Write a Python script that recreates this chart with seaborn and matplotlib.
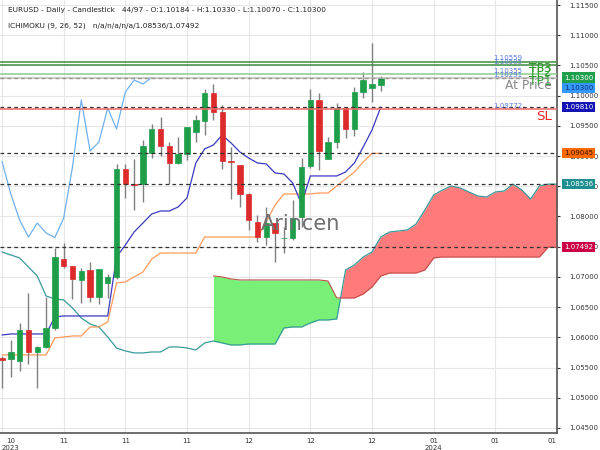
import numpy as np
import pandas as pd
import matplotlib
matplotlib.use("Agg")
import matplotlib.pyplot as plt
import matplotlib.transforms as mtransforms
import seaborn as sns

sns.set_style("whitegrid")
plt.rcParams['font.family'] = ['DejaVu Sans']

# ---------------- data ----------------
opens = [1.05658, 1.05642, 1.05609, 1.06122, 1.05758, 1.05840, 1.06155, 1.07297, 1.07181, 1.06949,
         1.07115, 1.06668, 1.06900, 1.06999, 1.08786, 1.08546, 1.08538, 1.09051, 1.09448, 1.09167,
         1.08885, 1.09034, 1.09398, 1.09580, 1.10044, 1.09729, 1.08926, 1.08852, 1.08372, 1.07909,
         1.07661, 1.07892, 1.07636, 1.07644, 1.07992, 1.08836, 1.09928, 1.08951, 1.09233, 1.09795,
         1.09448, 1.10060, 1.10126, 1.10184]
highs = [1.05692, 1.05956, 1.06238, 1.06734, 1.05857, 1.06668, 1.07479, 1.07561, 1.07181, 1.07148,
         1.07247, 1.07131, 1.07048, 1.08869, 1.08869, 1.08951, 1.09266, 1.09531, 1.09646, 1.09233,
         1.09316, 1.09481, 1.09680, 1.10110, 1.10193, 1.09845, 1.09150, 1.08852, 1.08389, 1.08025,
         1.08157, 1.07892, 1.07826, 1.08273, 1.08968, 1.10110, 1.10044, 1.09316, 1.09878, 1.09795,
         1.10143, 1.10391, 1.10871, 1.10330]
lows = [1.05162, 1.05344, 1.05443, 1.05559, 1.05162, 1.05824, 1.06122, 1.07148, 1.06635, 1.06569,
        1.06585, 1.06552, 1.06651, 1.06966, 1.08306, 1.08108, 1.08240, 1.08968, 1.09001, 1.08538,
        1.08869, 1.08935, 1.09233, 1.09349, 1.09597, 1.08786, 1.08290, 1.08157, 1.07777, 1.07578,
        1.07528, 1.07247, 1.07396, 1.07611, 1.07826, 1.08802, 1.08769, 1.08951, 1.09133, 1.09299,
        1.09332, 1.09961, 1.09895, 1.10070]
closes = [1.05625, 1.05758, 1.06122, 1.05758, 1.05840, 1.06155, 1.07330, 1.07181, 1.06966, 1.07098,
          1.06668, 1.07131, 1.06999, 1.08786, 1.08538, 1.08529, 1.09167, 1.09448, 1.09167, 1.08885,
          1.09034, 1.09481, 1.09597, 1.10044, 1.09729, 1.08918, 1.08910, 1.08372, 1.07942, 1.07661,
          1.07892, 1.07727, 1.07652, 1.07975, 1.08819, 1.09928, 1.09084, 1.09233, 1.09795, 1.09448,
          1.10060, 1.10259, 1.10193, 1.10300]

tenkan = [1.06039, 1.06056, 1.06056, 1.06056, 1.06056, 1.06056, 1.06337, 1.06354, 1.06354, 1.06354,
          1.06354, 1.06354, 1.06354, 1.07330, 1.07529, 1.07744, 1.07893, 1.08042, 1.08091, 1.08091,
          1.08158, 1.08307, 1.08886, 1.09118, 1.09184, 1.09349, 1.09217, 1.09068, 1.08968, 1.08886,
          1.08869, 1.08720, 1.08704, 1.08555, 1.08207, 1.08671, 1.08671, 1.08671, 1.08671, 1.08737,
          1.08886, 1.09150, 1.09432, 1.09810]
kijun = [1.05709, 1.05709, 1.05709, 1.05709, 1.05709, 1.05709, 1.05990, 1.06006, 1.06023, 1.06023,
         1.06172, 1.06172, 1.06255, 1.06900, 1.06917, 1.07000, 1.07082, 1.07297, 1.07396, 1.07396,
         1.07396, 1.07396, 1.07396, 1.07661, 1.07661, 1.07661, 1.07661, 1.07661, 1.07661, 1.07661,
         1.07909, 1.08191, 1.08373, 1.08373, 1.08373, 1.08373, 1.08389, 1.08389, 1.08505, 1.08621,
         1.08737, 1.08902, 1.09045, 1.09045]
span_a = [1.07413, 1.07363, 1.07314, 1.07165, 1.07016, 1.06685, 1.06635, 1.06619, 1.06486, 1.06321,
          1.06221, 1.06172, 1.06006, 1.05824, 1.05775, 1.05742, 1.05742, 1.05758, 1.05758, 1.05841,
          1.05841, 1.05824, 1.05791, 1.05907, 1.05940, 1.05907, 1.05874, 1.05874, 1.05890, 1.05890,
          1.05890, 1.05890, 1.06155, 1.06172, 1.06172, 1.06238, 1.06288, 1.06288, 1.06304, 1.07115,
          1.07198, 1.07330, 1.07413, 1.07661, 1.07744, 1.07760, 1.07777, 1.07876, 1.08108, 1.08356,
          1.08439, 1.08505, 1.08472, 1.08406, 1.08340, 1.08323, 1.08406, 1.08422, 1.08536, 1.08439,
          1.08290, 1.08505, 1.08536, 1.08536]
span_b = [np.nan] * 24 + [
          1.07016, 1.06999, 1.06966, 1.06950, 1.06950, 1.06950, 1.06950, 1.06950, 1.06950, 1.06950,
          1.06950, 1.06950, 1.06950, 1.06933, 1.06652, 1.06652, 1.06652, 1.06718, 1.06834, 1.07016,
          1.07065, 1.07065, 1.07065, 1.07065, 1.07115, 1.07314, 1.07330, 1.07330, 1.07330, 1.07330,
          1.07330, 1.07330, 1.07330, 1.07330, 1.07330, 1.07330, 1.07330, 1.07330, 1.07492, 1.07492]

x_tick_pos = [0, 7, 14, 21, 28, 35, 42, 49, 56, 63]
x_tick_labels = ["10\n2023", "11", "11", "11", "12", "12", "12", "01\n2024", "01", "01"]

level_values = [1.10559, 1.10505, 1.10355, 1.10291, 1.09772]
level_names = ["TP3", "TP2", "TP1", "At Price", "SL"]
level_colors = ["#3f8f3f", "#3f8f3f", "#8ccc8c", "#bbbbbb", "#ee6666"]
level_text_colors = ["#2a9a2a", "#2a9a2a", "#2a9a2a", "#888888", "#ee2222"]

last_values = [1.10300, 1.09810, 1.09045, 1.08536, 1.07492]
box_values = [1.10300, 1.10300, 1.09810, 1.09045, 1.08536, 1.07492]
box_positions = [1.10300, 1.10126, 1.09810, 1.09045, 1.08536, 1.07492]
box_colors = ["#20a04c", "#3399ff", "#1414b4", "#ff6a00", "#1f8f8f", "#cc0044"]
box_text_colors = ["white", "#10306a", "white", "#331100", "white", "white"]

title_1 = "EURUSD - Daily - Candlestick   44/97 - O:1.10184 - H:1.10330 - L:1.10070 - C:1.10300"
title_2 = "ICHIMOKU (9, 26, 52)   n/a/n/a/n/a/1.08536/1.07492"

# ---------------- frames ----------------
n = len(closes)
candles = pd.DataFrame({"i": np.arange(n), "o": opens, "h": highs, "l": lows, "c": closes})
ichi = pd.DataFrame({"i": np.arange(len(span_a)), "a": span_a, "b": span_b})
tk = pd.DataFrame({"i": np.arange(n), "tenkan": tenkan, "kijun": kijun})
chikou = pd.DataFrame({"i": np.arange(n - 26), "v": closes[26:]})

# ---------------- figure ----------------
fig = plt.figure(figsize=(6, 4.5), dpi=100)
ax = fig.add_axes([0, 1 - 433 / 450, 557 / 600, 433 / 450])
ax.set_facecolor("white")

# cloud
a = ichi["a"].to_numpy()
b = ichi["b"].to_numpy()
valid = ~np.isnan(b)
xi = ichi["i"].to_numpy()
ax.fill_between(xi[valid], a[valid], b[valid], where=(b[valid] >= a[valid]), interpolate=True,
                color="#78f078", lw=0, zorder=1)
ax.fill_between(xi[valid], a[valid], b[valid], where=(a[valid] > b[valid]), interpolate=True,
                color="#ff7b7b", lw=0, zorder=1)
sns.lineplot(data=ichi, x="i", y="a", ax=ax, color="#3a9a9a", linewidth=0.9, estimator=None, sort=False, zorder=2)
sns.lineplot(data=ichi[valid], x="i", y="b", ax=ax, color="#c0504d", linewidth=0.8, estimator=None, sort=False, zorder=2)

# tenkan / kijun / chikou
sns.lineplot(data=tk, x="i", y="kijun", ax=ax, color="#ff9a5a", linewidth=0.9, estimator=None, sort=False, zorder=3)
sns.lineplot(data=tk, x="i", y="tenkan", ax=ax, color="#3a3ac0", linewidth=0.9, estimator=None, sort=False, zorder=3)
sns.lineplot(data=chikou, x="i", y="v", ax=ax, color="#6fb0f0", linewidth=0.9, estimator=None, sort=False, zorder=3)

# candles
up = candles["c"] >= candles["o"]
colors = np.where(up, "#1e9e48", "#dd2a2a")
ax.vlines(candles["i"], candles["l"], candles["h"], color="#808080", lw=1, zorder=4)
body_low = np.minimum(candles["o"], candles["c"])
body_h = np.maximum(np.abs(candles["c"] - candles["o"]), 0.00012)
ax.bar(candles["i"], body_h, bottom=body_low, width=0.62, color=colors, edgecolor=colors, lw=0.5, zorder=5)

# horizontal levels
for v in last_values:
    ax.axhline(v, color="#333333", ls=(0, (3, 2.5)), lw=0.9, zorder=6)
for v, c in zip(level_values, level_colors):
    ax.axhline(v, color=c, lw=1.1, zorder=6)

tr = mtransforms.blended_transform_factory(ax.transAxes, ax.transData)
for v in level_values:
    ax.text(522 / 557, v + 0.00008, f"{v:.5f}", transform=tr, ha="right", va="bottom",
            fontsize=5, color="#5b7be0", zorder=7)
for v, name, c in zip(level_values, level_names, level_text_colors):
    ax.text(552 / 557, v - 0.00010, name, transform=tr, ha="right", va="top",
            fontsize=8.8 if name != "SL" else 9.6, color=c, zorder=7)

# watermark
ax.text(33.9, 1.07876, "Arincen", fontsize=15, color="#707070", ha="center", va="center", zorder=8)

# axes formatting
ax.set_xlim(-0.227, 63.0)
ax.set_ylim(1.04417, 1.11583)
yt = np.round(np.arange(1.045, 1.11501, 0.005), 3)
ax.set_yticks(yt)
ax.set_yticklabels([f"{v:.5f}" for v in yt])
ax.yaxis.tick_right()
ax.set_xticks(x_tick_pos)
ax.set_xticklabels(x_tick_labels)
ax.set_xlabel("")
ax.set_ylabel("")
ax.tick_params(axis="y", labelsize=5, length=2, pad=7, colors="#333333", labelcolor="#333333")
ax.tick_params(axis="x", labelsize=5, length=2, pad=1.5, colors="#333333", labelcolor="#333333")
for lbl in ax.get_xticklabels():
    lbl.set_multialignment("center")
xl = ax.get_xticklabels()
xl[0].set_ha("left")
xl[-1].set_ha("right")
ax.grid(True, color="#e6e6e6", lw=0.8)
ax.set_axisbelow(True)
for s in ["left", "top"]:
    ax.spines[s].set_visible(False)
for s in ["bottom", "right"]:
    ax.spines[s].set_visible(True)
    ax.spines[s].set_color("#555555")
    ax.spines[s].set_linewidth(1.2)

# value boxes on the right axis
for v, pos, fc, tc in zip(box_values, box_positions, box_colors, box_text_colors):
    ax.text(564 / 557, pos, f"{v:.5f}", transform=tr, ha="left", va="center", fontsize=5, color=tc,
            bbox=dict(boxstyle="square,pad=0.3", fc=fc, ec="none"), clip_on=False, zorder=10)

# header texts
fig.text(8 / 600, 1 - 10 / 450, title_1, fontsize=5.3, color="#222222", ha="left", va="center")
fig.text(8 / 600, 1 - 26 / 450, title_2, fontsize=5.3, color="#222222", ha="left", va="center")

fig.savefig("out.png", dpi=100, facecolor="white")
